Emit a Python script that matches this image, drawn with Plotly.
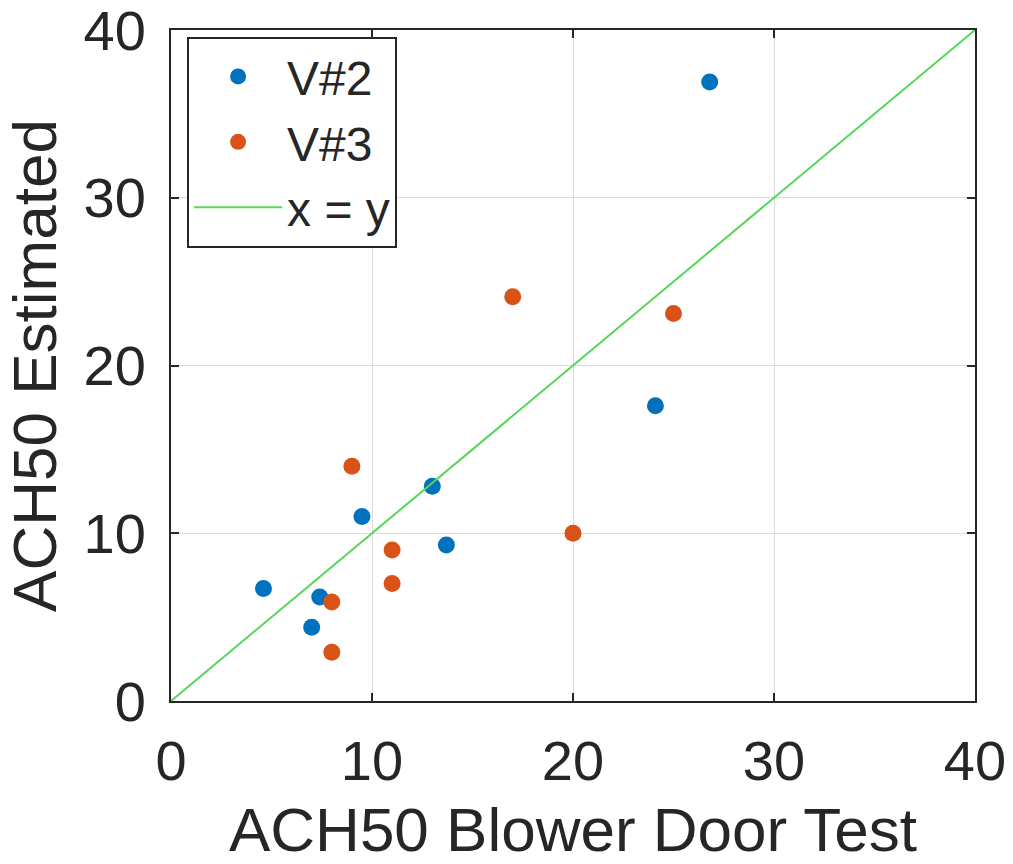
import plotly.graph_objects as go

# V#2 series
v2_x = [26.8, 24.1, 13.0, 13.7, 9.5, 4.6, 7.4, 7.0]
v2_y = [36.9, 17.6, 12.8, 9.3, 11.0, 6.7, 6.2, 4.4]
# V#3 series
v3_x = [17.0, 25.0, 9.0, 11.0, 11.0, 20.0, 8.0, 8.0]
v3_y = [24.1, 23.1, 14.0, 9.0, 7.0, 10.0, 5.9, 2.9]
# reference line x = y
line_x = [0, 40]
line_y = [0, 40]
tick_vals = [0, 10, 20, 30, 40]

FONT = "Liberation Sans, Arial, Helvetica, sans-serif"
TXT = "#262626"

fig = go.Figure()
fig.add_trace(go.Scatter(x=v2_x, y=v2_y, mode="markers", name="V#2",
                         marker=dict(color="#0072BD", size=17)))
fig.add_trace(go.Scatter(x=v3_x, y=v3_y, mode="markers", name="V#3",
                         marker=dict(color="#D95319", size=17)))
fig.add_trace(go.Scatter(x=line_x, y=line_y, mode="lines", name="x = y",
                         line=dict(color="#55d655", width=2)))

axis_common = dict(
    range=[0, 40], tickvals=tick_vals, showgrid=True, gridcolor="#dcdcdc", gridwidth=1,
    showline=True, linecolor=TXT, linewidth=2, mirror="allticks",
    ticks="inside", ticklen=8, tickcolor=TXT, tickwidth=1.5,
    zeroline=False, tickfont=dict(family=FONT, size=56, color=TXT),
    ticklabeloverflow="allow", fixedrange=True,
)

fig.update_layout(
    width=1013, height=864,
    margin=dict(l=171, r=38, t=30, b=163, autoexpand=False),
    paper_bgcolor="white", plot_bgcolor="white",
    font=dict(family=FONT, color=TXT),
    showlegend=True,
    legend=dict(x=0.02, y=0.99, xanchor="left", yanchor="top",
                bgcolor="white", bordercolor=TXT, borderwidth=2,
                font=dict(family=FONT, size=48, color=TXT),
                itemwidth=88, tracegroupgap=0),
    xaxis=dict(axis_common, ticklabelstandoff=10,
               title=dict(text="ACH50 Blower Door Test",
                          font=dict(family=FONT, size=62, color=TXT), standoff=28)),
    yaxis=dict(axis_common, ticklabelstandoff=12,
               title=dict(text="ACH50 Estimated",
                          font=dict(family=FONT, size=62, color=TXT), standoff=16)),
)

fig.write_html("out.html")
